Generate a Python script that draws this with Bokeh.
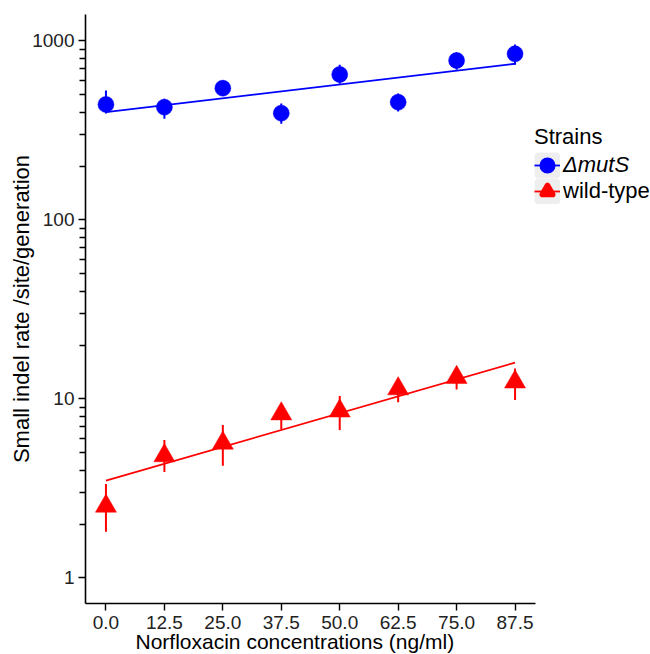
from bokeh.plotting import figure
from bokeh.models import Range1d, FixedTicker, Legend, LegendItem, NumeralTickFormatter, Title
from bokeh.embed import file_html
from bokeh.resources import INLINE

# ---- data ----
conc = [0.0, 12.5, 25.0, 37.5, 50.0, 62.5, 75.0, 87.5]
x_tick_labels = ["0.0", "12.5", "25.0", "37.5", "50.0", "62.5", "75.0", "87.5"]
y_major_ticks = [1, 10, 100, 1000]

muts_rate = [442, 427, 545, 395, 650, 455, 778, 848]
muts_lower = [393, 368, 497, 345, 577, 404, 690, 736]
muts_upper = [529, 476, 602, 448, 736, 509, 862, 956]

wt_rate = [2.52, 4.82, 5.67, 8.26, 8.57, 11.4, 13.2, 12.45]
wt_lower = [1.81, 3.91, 4.24, 6.77, 6.70, 9.58, 11.3, 9.87]
wt_upper = [3.35, 5.90, 7.16, 9.30, 10.4, 12.5, 14.5, 14.8]

fit_x = [0.0, 87.5]
muts_fit = [400, 746]
wt_fit = [3.5, 15.96]

FONT = "Liberation Sans"
BLUE = "#0000FF"
RED = "#FF0000"
KEYBG = "#eeeeee"

X_LO, X_HI = -4.375, 91.875            # axis extent (ggplot 5% expansion)
PANEL_W = 450                           # px between y axis and end of x axis
X_FRAME_HI = X_LO + (X_HI - X_LO) * 565 / PANEL_W   # frame continues under the legend

p = figure(width=650, height=654,
           x_range=Range1d(X_LO, X_FRAME_HI), y_range=Range1d(0.72, 1406),
           y_axis_type="log", output_backend="svg", toolbar_location=None,
           min_border_left=85, min_border_right=0, min_border_top=14, min_border_bottom=51)
p.grid.visible = False
p.outline_line_color = None
p.background_fill_color = "white"

# axes
p.xaxis.ticker = FixedTicker(ticks=conc)
p.xaxis.major_label_overrides = {c: l for c, l in zip(conc, x_tick_labels)}
p.xaxis.formatter = NumeralTickFormatter(format="0.0")
p.xaxis.bounds = (X_LO, X_HI)
minor = [m * 10 ** e for e in range(0, 3) for m in range(2, 10)]
p.yaxis.ticker = FixedTicker(ticks=y_major_ticks, minor_ticks=minor)
p.yaxis.formatter = NumeralTickFormatter(format="0")

for ax in (p.xaxis[0], p.yaxis[0]):
    ax.axis_line_color = "black"
    ax.axis_line_width = 1.6
    ax.major_tick_line_color = "black"
    ax.major_tick_line_width = 1.4
    ax.major_tick_in = 0
    ax.major_tick_out = 7
    ax.minor_tick_line_color = "black"
    ax.minor_tick_line_width = 1.4
    ax.minor_tick_in = 0
    ax.minor_tick_out = 6
    ax.major_label_text_font = FONT
    ax.major_label_text_font_size = "19px"
    ax.major_label_text_color = "#222222"
    ax.axis_label_text_font = FONT
    ax.axis_label_text_font_size = "22px"
    ax.axis_label_text_font_style = "normal"
    ax.axis_label_text_color = "black"

p.xaxis.major_label_standoff = 5
p.yaxis.axis_label = "Small indel rate /site/generation"
p.yaxis.major_label_standoff = 4
p.yaxis.axis_label_standoff = -5

xt = Title(text="Norfloxacin concentrations (ng/ml)", align="left", offset=50,
           text_font=FONT, text_font_size="21px", text_font_style="normal",
           text_color="black", standoff=-7)
p.add_layout(xt, "below")

# data: error bars, fit lines, points
p.segment(x0=conc, y0=muts_lower, x1=conc, y1=muts_upper, line_color=BLUE, line_width=2)
p.segment(x0=conc, y0=wt_lower, x1=conc, y1=wt_upper, line_color=RED, line_width=2)
p.line(fit_x, muts_fit, line_color=BLUE, line_width=1.8)
p.line(fit_x, wt_fit, line_color=RED, line_width=1.8)
p.scatter(conc, muts_rate, marker="circle", size=16, fill_color=BLUE, line_color=BLUE, line_width=0.5)
p.scatter(conc, wt_rate, marker="triangle", size=21, fill_color=RED, line_color=RED, line_width=0.5)

# legend-only renderers (NaN data: nothing drawn in the frame)
nan = [float("nan")]
bg1 = p.rect(x=nan, y=nan, width=1, height=1, fill_color=KEYBG, line_color=KEYBG, line_width=5)
bl = p.line(nan, nan, line_color=BLUE, line_width=1.8)
bm = p.scatter(nan, nan, marker="circle", size=16, fill_color=BLUE, line_color=BLUE, line_width=5.6)
bg2 = p.rect(x=nan, y=nan, width=1, height=1, fill_color=KEYBG, line_color=KEYBG, line_width=5)
rl = p.line(nan, nan, line_color=RED, line_width=1.8)
rm = p.scatter(nan, nan, marker="triangle", size=21, fill_color=RED, line_color=RED,
               line_width=5.6, line_join="round")


def style(leg, italic):
    leg.border_line_color = None
    leg.background_fill_alpha = 0
    leg.padding = 0
    leg.margin = 0
    leg.spacing = 0
    leg.glyph_width = 26
    leg.glyph_height = 26
    leg.label_height = 26
    leg.label_standoff = 3
    leg.label_text_font = FONT
    leg.label_text_font_size = "22px"
    leg.label_text_color = "black"
    leg.label_text_font_style = "italic" if italic else "normal"
    leg.title_text_font = FONT
    leg.title_text_font_size = "22px"
    leg.title_text_font_style = "normal"
    leg.title_text_color = "black"
    leg.title_standoff = 2


legA = Legend(items=[LegendItem(label="\u0394mutS", renderers=[bg1, bl, bm])],
              title="Strains", location=(449, 425))
style(legA, True)
legB = Legend(items=[LegendItem(label="wild-type", renderers=[bg2, rl, rm])],
              location=(449, 399))
style(legB, False)
p.add_layout(legA)
p.add_layout(legB)

open("out.html", "w").write(file_html(p, INLINE))
